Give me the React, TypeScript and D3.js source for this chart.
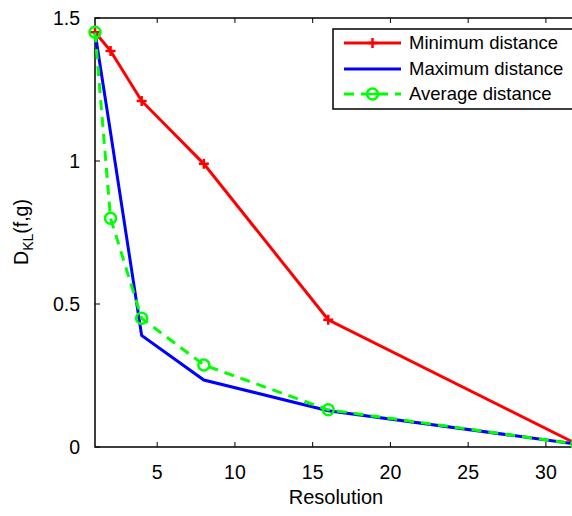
import React from 'react';
import * as d3 from 'd3';

// resolutions on the x axis
const resolutions = [1, 2, 4, 8, 16, 32];
const minDistance = [1.45, 1.385, 1.21, 0.99, 0.445, 0.01];
const maxDistance = [1.45, 1.1, 0.39, 0.234, 0.127, 0.01];
const avgDistance = [1.45, 0.8, 0.45, 0.287, 0.13, 0.01];

const xTicks = [5, 10, 15, 20, 25, 30];
const yTicks = [0, 0.5, 1, 1.5];

const width = 572;
const height = 516;
const font = 'Liberation Sans, Arial, sans-serif';

const App = () => {
  const margin = { left: 95, top: 18, right: 577, bottom: 447 };

  const x = d3.scaleLinear().domain([1, 32]).range([margin.left, margin.right]);
  const y = d3.scaleLinear().domain([0, 1.5]).range([margin.bottom, margin.top]);

  const line = d3.line<number>()
    .x((_, i) => x(resolutions[i]))
    .y(d => y(d));

  const plus = (cx: number, cy: number, key: string) => (
    <path key={key} d={`M${cx - 5},${cy}H${cx + 5}M${cx},${cy - 5}V${cy + 5}`} stroke="#ff0000" strokeWidth={2.5} />
  );

  return (
    <svg width={width} height={height} style={{ position: 'absolute', left: 0, top: 0 }} fontFamily={font}>
      <rect width={width} height={height} fill="#fff" />

      {/* axes box */}
      <path d={`M${margin.left},${margin.top}H${margin.right}V${margin.bottom}H${margin.left}Z`} fill="none" stroke="#000" strokeWidth={1.5} />

      {xTicks.map(t => (
        <g key={'x' + t}>
          <line x1={x(t)} x2={x(t)} y1={margin.bottom} y2={margin.bottom - 5} stroke="#000" />
          <line x1={x(t)} x2={x(t)} y1={margin.top} y2={margin.top + 5} stroke="#000" />
          <text x={x(t)} y={479} textAnchor="middle" fontSize={19.5}>{t}</text>
        </g>
      ))}
      {yTicks.map(t => (
        <g key={'y' + t}>
          <line x1={margin.left} x2={margin.left + 5} y1={y(t)} y2={y(t)} stroke="#000" />
          <text x={80} y={y(t) + 7} textAnchor="end" fontSize={19.5}>{t}</text>
        </g>
      ))}

      <text x={336} y={504} textAnchor="middle" fontSize={20}>Resolution</text>
      <text transform={`translate(28,232) rotate(-90)`} textAnchor="middle" fontSize={19.5}>
        D<tspan fontSize={14} dy={5}>KL</tspan><tspan dy={-5}>(f,g)</tspan>
      </text>

      {/* series */}
      <path d={line(minDistance) || ''} fill="none" stroke="#ff0000" strokeWidth={3} />
      {minDistance.map((v, i) => plus(x(resolutions[i]), y(v), 'p' + i))}

      <path d={line(maxDistance) || ''} fill="none" stroke="#0000ff" strokeWidth={3} />

      <path d={line(avgDistance) || ''} fill="none" stroke="#00ff00" strokeWidth={3} strokeDasharray="10,7" />
      {avgDistance.map((v, i) => (
        <circle key={'c' + i} cx={x(resolutions[i])} cy={y(v)} r={5.5} fill="none" stroke="#00ff00" strokeWidth={2.5} />
      ))}

      {/* legend */}
      <rect x={333} y={29} width={260} height={80} fill="#fff" stroke="#000" strokeWidth={1.5} />
      <line x1={344} x2={401} y1={43} y2={43} stroke="#ff0000" strokeWidth={3} />
      {plus(372.5, 43, 'lp')}
      <text x={409} y={49} fontSize={18.5}>Minimum distance</text>
      <line x1={344} x2={401} y1={69} y2={69} stroke="#0000ff" strokeWidth={3} />
      <text x={409} y={75} fontSize={18.5}>Maximum distance</text>
      <line x1={344} x2={401} y1={94} y2={94} stroke="#00ff00" strokeWidth={3} strokeDasharray="10,7" />
      <circle cx={372.5} cy={94} r={5.5} fill="#fff" stroke="#00ff00" strokeWidth={2.5} />
      <line x1={367} x2={378} y1={94} y2={94} stroke="#00ff00" strokeWidth={2.5} />
      <text x={409} y={100} fontSize={18.5}>Average distance</text>
    </svg>
  );
};

export default App;
